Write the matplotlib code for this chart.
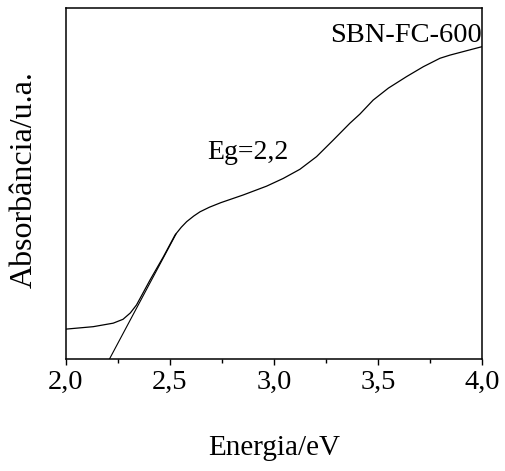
import matplotlib
matplotlib.use("Agg")
import matplotlib.pyplot as plt
from matplotlib.ticker import MultipleLocator, FixedFormatter, FixedLocator

# Data
energy = [2.0, 2.132, 2.228, 2.275, 2.31, 2.34, 2.405, 2.469, 2.525, 2.555,
          2.581, 2.615, 2.645, 2.69, 2.745, 2.853, 2.965, 3.045, 3.125, 3.205,
          3.285, 3.365, 3.413, 3.477, 3.55, 3.638, 3.718, 3.798, 3.846, 3.91, 4.0]
absorb = [0.085, 0.092, 0.102, 0.113, 0.131, 0.154, 0.225, 0.291, 0.353, 0.375,
          0.391, 0.407, 0.419, 0.432, 0.445, 0.467, 0.492, 0.514, 0.540, 0.576,
          0.623, 0.671, 0.697, 0.737, 0.771, 0.804, 0.832, 0.856, 0.865, 0.875, 0.889]
tangent_x = [2.21, 2.53]
tangent_y = [0.0, 0.356]
xticks = [2.0, 2.5, 3.0, 3.5, 4.0]
xticklabels = ["2,0", "2,5", "3,0", "3,5", "4,0"]

plt.rcParams['font.family'] = ['Liberation Serif', 'DejaVu Serif']

fig = plt.figure(figsize=(5.06, 4.71), dpi=100)
ax = fig.add_axes([0.130, 0.2378, 0.8226, 0.7459])

ax.plot(energy, absorb, color='black', lw=0.9)
ax.plot(tangent_x, tangent_y, color='black', lw=0.8)

ax.set_xlim(2.0, 4.0)
ax.set_ylim(0, 1)
ax.xaxis.set_major_locator(FixedLocator(xticks))
ax.xaxis.set_major_formatter(FixedFormatter(xticklabels))
ax.xaxis.set_minor_locator(MultipleLocator(0.25))
ax.set_yticks([])
ax.tick_params(axis='x', which='major', direction='out', length=4.5, width=1.0,
               labelsize=20.5, pad=3)
ax.tick_params(axis='x', which='minor', direction='out', length=3, width=1.0)
for s in ax.spines.values():
    s.set_linewidth(1.1)

ax.set_xlabel("Energia/eV", fontsize=21, va='baseline')
ax.xaxis.set_label_coords(0.5, -0.273)
ax.set_ylabel("Absorbância/u.a.", fontsize=23, va='center', ha='center')
ax.yaxis.set_label_coords(-0.100, 0.51)

ax.text(4.0, 0.902, "SBN-FC-600", fontsize=20.5, ha='right', va='baseline')
ax.text(2.679, 0.569, "Eg=2,2", fontsize=20, ha='left', va='baseline')

fig.savefig("out.png", dpi=100)
